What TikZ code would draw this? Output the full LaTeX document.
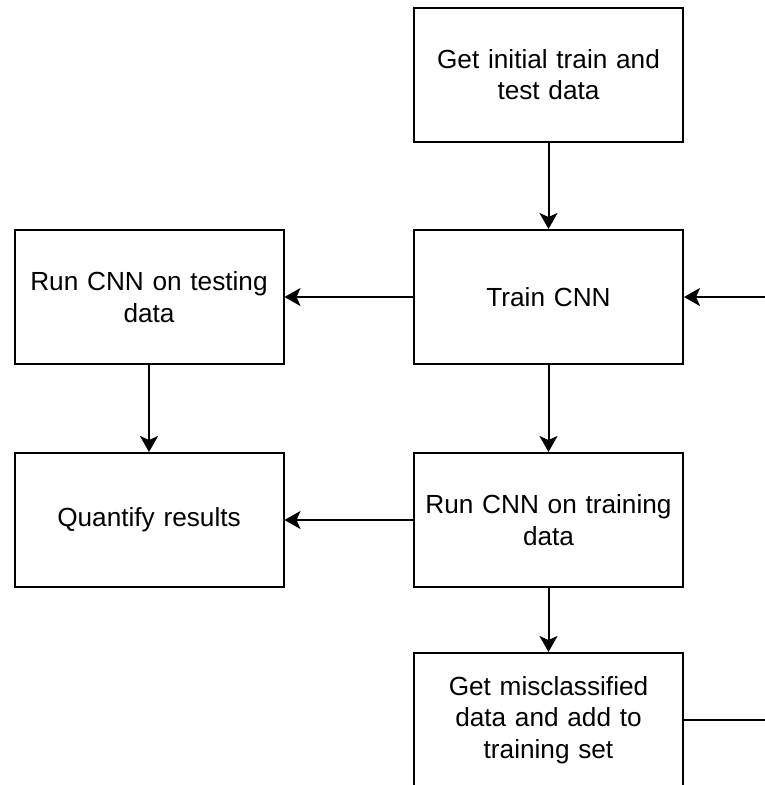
\documentclass[tikz,border=0pt]{standalone}
\usepackage{fontspec}
\setmainfont{Liberation Sans}
\usetikzlibrary{arrows.meta}
\begin{document}
\begin{tikzpicture}[x=1pt,y=-1pt,
  box/.style={draw=black, line width=2pt, fill=white, minimum width=269pt, minimum height=134pt,
    align=center, text width=250pt, inner sep=0pt, font=\fontsize{26.2}{31.7}\selectfont},
  conn/.style={draw=black, line width=2pt, -{Stealth[length=16pt,width=18pt,inset=4pt]}},
  plain/.style={draw=black, line width=2pt}]
\clip (0,0) rectangle (765,785);
\fill[white] (0,0) rectangle (765,785);
\node[box] (init) at (548.5,74.5) {Get initial train and\\test data};
\node[box] (train) at (548.5,297) {Train CNN};
\node[box] (test) at (149,297) {Run CNN on testing\\data};
\node[box] (quant) at (149,520) {Quantify results};
\node[box] (runtr) at (548.5,520) {Run CNN on training\\data};
\node[box] (mis) at (548.5,720) {Get misclassified\\data and add to\\training set};
\coordinate (rin) at (775,297);
\coordinate (rout) at (775,720);
\draw[conn] (init) -- (train);
\draw[conn] (train) -- (test);
\draw[conn] (test) -- (quant);
\draw[conn] (train) -- (runtr);
\draw[conn] (runtr) -- (quant);
\draw[conn] (runtr) -- (mis);
\draw[conn] (rin) -- (train);
\draw[plain] (mis) -- (rout);
\end{tikzpicture}
\end{document}
